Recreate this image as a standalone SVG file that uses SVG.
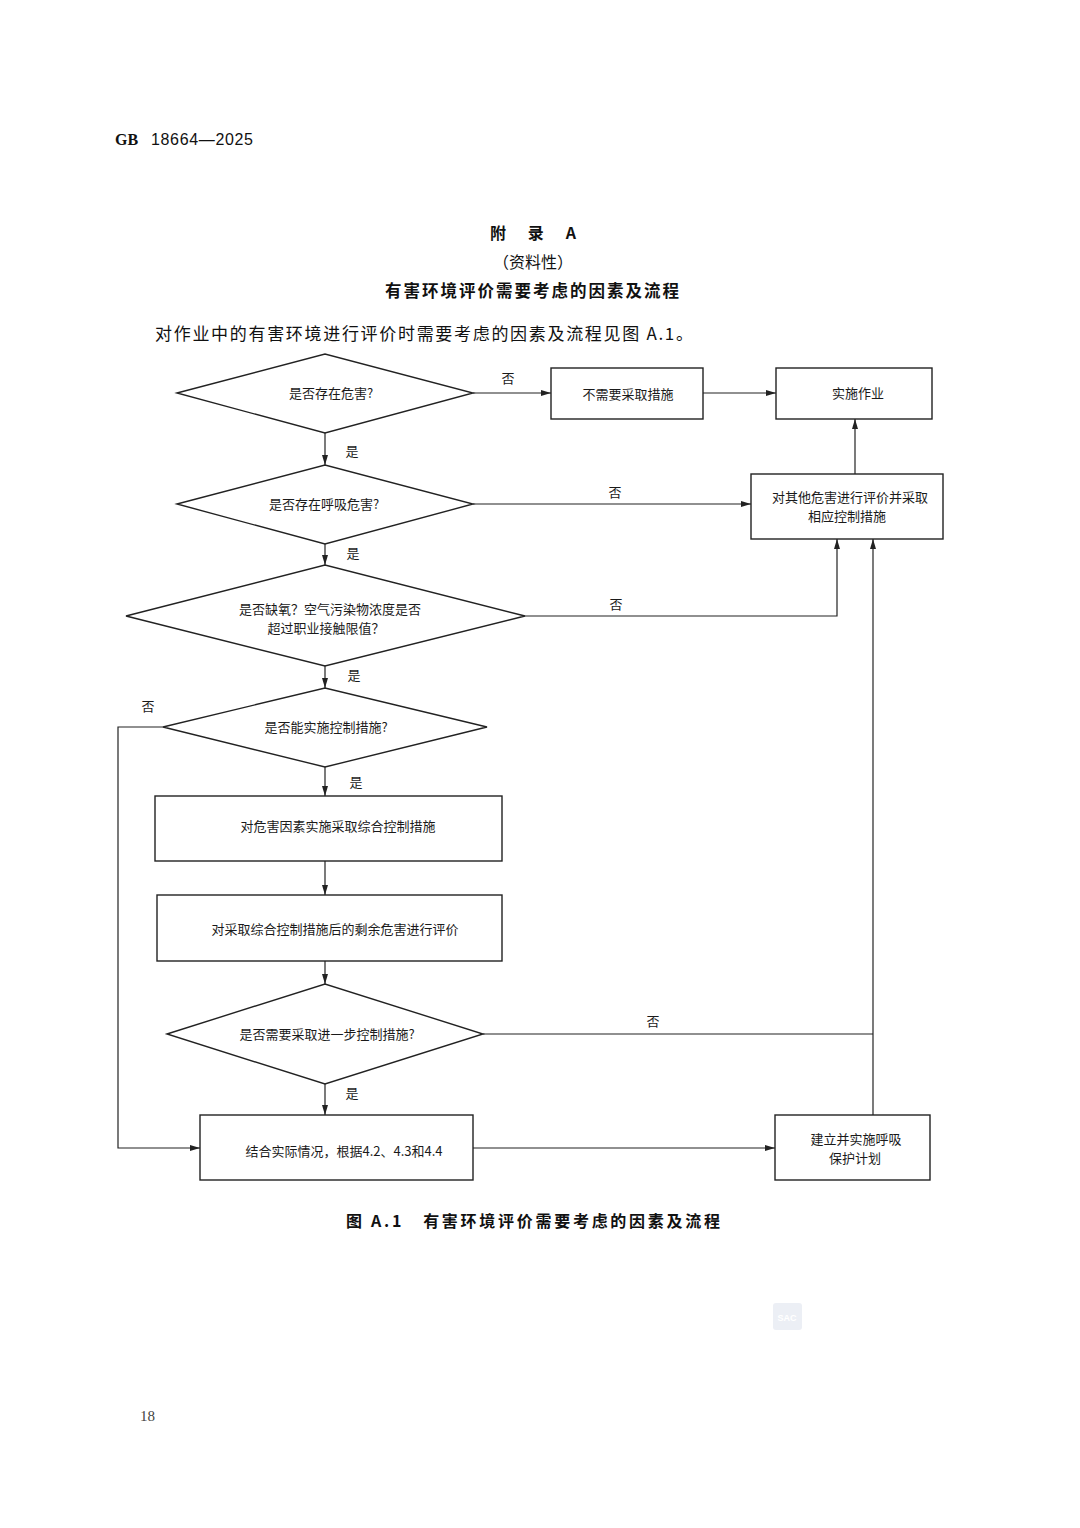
<svg xmlns="http://www.w3.org/2000/svg" width="1080" height="1528" viewBox="0 0 1080 1528">
<defs>
<style>
.t{font-family:"Noto Sans CJK SC","Liberation Sans",sans-serif;font-size:13px;fill:#1a1a1a;text-anchor:middle}
.s{fill:#fff;stroke:#222;stroke-width:1.4}
.c{fill:none;stroke:#222;stroke-width:1.2}
.h{font-family:"Noto Sans CJK SC","Liberation Sans",sans-serif;fill:#111;text-anchor:middle}
</style>
<marker id="a" viewBox="0 0 10 6" refX="10" refY="3" markerWidth="10" markerHeight="6" markerUnits="userSpaceOnUse" orient="auto">
<path d="M0,0 L10,3 L0,6 Z" fill="#222"/>
</marker>
</defs>
<rect width="1080" height="1528" fill="#fff"/>

<text x="115" y="145" font-family="Liberation Serif,serif" font-weight="bold" font-size="16" fill="#111">GB</text>
<text x="151" y="145" font-family="Liberation Sans,sans-serif" font-size="16" fill="#111" textLength="102">18664—2025</text>

<text class="h" x="533" y="239" font-size="16" font-weight="bold" xml:space="preserve">附      录      A</text>
<text class="h" x="533" y="268" font-size="16">（资料性）</text>
<text class="h" x="533" y="297" font-size="16.5" font-weight="bold" letter-spacing="2">有害环境评价需要考虑的因素及流程</text>
<text x="155" y="340" font-family="Noto Sans CJK SC,sans-serif" font-size="17" fill="#111" textLength="538">对作业中的有害环境进行评价时需要考虑的因素及流程见图 A.1。</text>

<g id="connectors">
<line class="c" x1="473" y1="393" x2="551" y2="393" marker-end="url(#a)"/>
<line class="c" x1="703" y1="393" x2="776" y2="393" marker-end="url(#a)"/>
<line class="c" x1="325" y1="433" x2="325" y2="465" marker-end="url(#a)"/>
<line class="c" x1="473" y1="504" x2="751" y2="504" marker-end="url(#a)"/>
<line class="c" x1="855" y1="474" x2="855" y2="419" marker-end="url(#a)"/>
<line class="c" x1="325" y1="544" x2="325" y2="565" marker-end="url(#a)"/>
<polyline class="c" points="525,616 837,616 837,539" marker-end="url(#a)"/>
<line class="c" x1="325" y1="666" x2="325" y2="688" marker-end="url(#a)"/>
<polyline class="c" points="163,727 118,727 118,1148 200,1148" marker-end="url(#a)"/>
<line class="c" x1="325" y1="767" x2="325" y2="796" marker-end="url(#a)"/>
<line class="c" x1="325" y1="861" x2="325" y2="895" marker-end="url(#a)"/>
<line class="c" x1="325" y1="961" x2="325" y2="984" marker-end="url(#a)"/>
<line class="c" x1="483" y1="1034" x2="873" y2="1034"/>
<line class="c" x1="325" y1="1084" x2="325" y2="1115" marker-end="url(#a)"/>
<line class="c" x1="473" y1="1148" x2="775" y2="1148" marker-end="url(#a)"/>
<line class="c" x1="873" y1="1115" x2="873" y2="539" marker-end="url(#a)"/>
<text class="t" x="508" y="383">否</text>
<text class="t" x="352" y="456">是</text>
<text class="t" x="615" y="497">否</text>
<text class="t" x="353" y="558">是</text>
<text class="t" x="616" y="609">否</text>
<text class="t" x="354" y="680">是</text>
<text class="t" x="148" y="711">否</text>
<text class="t" x="356" y="787">是</text>
<text class="t" x="653" y="1026">否</text>
<text class="t" x="352" y="1098">是</text>
</g>

<g id="d1"><polygon class="s" points="177,393 325,354 473,393 325,433"/><text class="t" x="331" y="398">是否存在危害?</text></g>
<g id="b1"><rect class="s" x="551" y="368" width="152" height="51"/><text class="t" x="628" y="399">不需要采取措施</text></g>
<g id="b2"><rect class="s" x="776" y="368" width="156" height="51"/><text class="t" x="858" y="398">实施作业</text></g>
<g id="d2"><polygon class="s" points="177,504 325,465 473,504 325,544"/><text class="t" x="324" y="509">是否存在呼吸危害?</text></g>
<g id="b3"><rect class="s" x="751" y="474" width="192" height="65"/><text class="t" x="850" y="502">对其他危害进行评价并采取</text><text class="t" x="847" y="521">相应控制措施</text></g>
<g id="d3"><polygon class="s" points="126,616 325,565 525,616 325,666"/><text class="t" x="330" y="614">是否缺氧？空气污染物浓度是否</text><text class="t" x="326" y="633">超过职业接触限值？</text></g>
<g id="d4"><polygon class="s" points="163,727 325,688 487,727 325,767"/><text class="t" x="326" y="732">是否能实施控制措施?</text></g>
<g id="b4"><rect class="s" x="155" y="796" width="347" height="65"/><text class="t" x="338" y="831">对危害因素实施采取综合控制措施</text></g>
<g id="b5"><rect class="s" x="157" y="895" width="345" height="66"/><text class="t" x="335" y="934">对采取综合控制措施后的剩余危害进行评价</text></g>
<g id="d5"><polygon class="s" points="167,1034 325,984 483,1034 325,1084"/><text class="t" x="327" y="1039">是否需要采取进一步控制措施?</text></g>
<g id="b6"><rect class="s" x="200" y="1115" width="273" height="65"/><text class="t" x="344" y="1156">结合实际情况，根据4.2、4.3和4.4</text></g>
<g id="b7"><rect class="s" x="775" y="1115" width="155" height="65"/><text class="t" x="856" y="1144">建立并实施呼吸</text><text class="t" x="855" y="1163">保护计划</text></g>

<text x="346" y="1227" font-family="Noto Sans CJK SC,sans-serif" font-size="16" font-weight="bold" fill="#111" textLength="374" xml:space="preserve">图 A.1   有害环境评价需要考虑的因素及流程</text>

<g id="watermark" opacity="0.12"><rect x="773" y="1303" width="29" height="27" rx="3" fill="#6a7fb0"/><text x="787" y="1321" font-family="Liberation Sans,sans-serif" font-size="9" font-weight="bold" fill="#fff" text-anchor="middle">SAC</text></g>

<text x="140" y="1421" font-family="Liberation Serif,serif" font-size="15" fill="#444">18</text>
</svg>
